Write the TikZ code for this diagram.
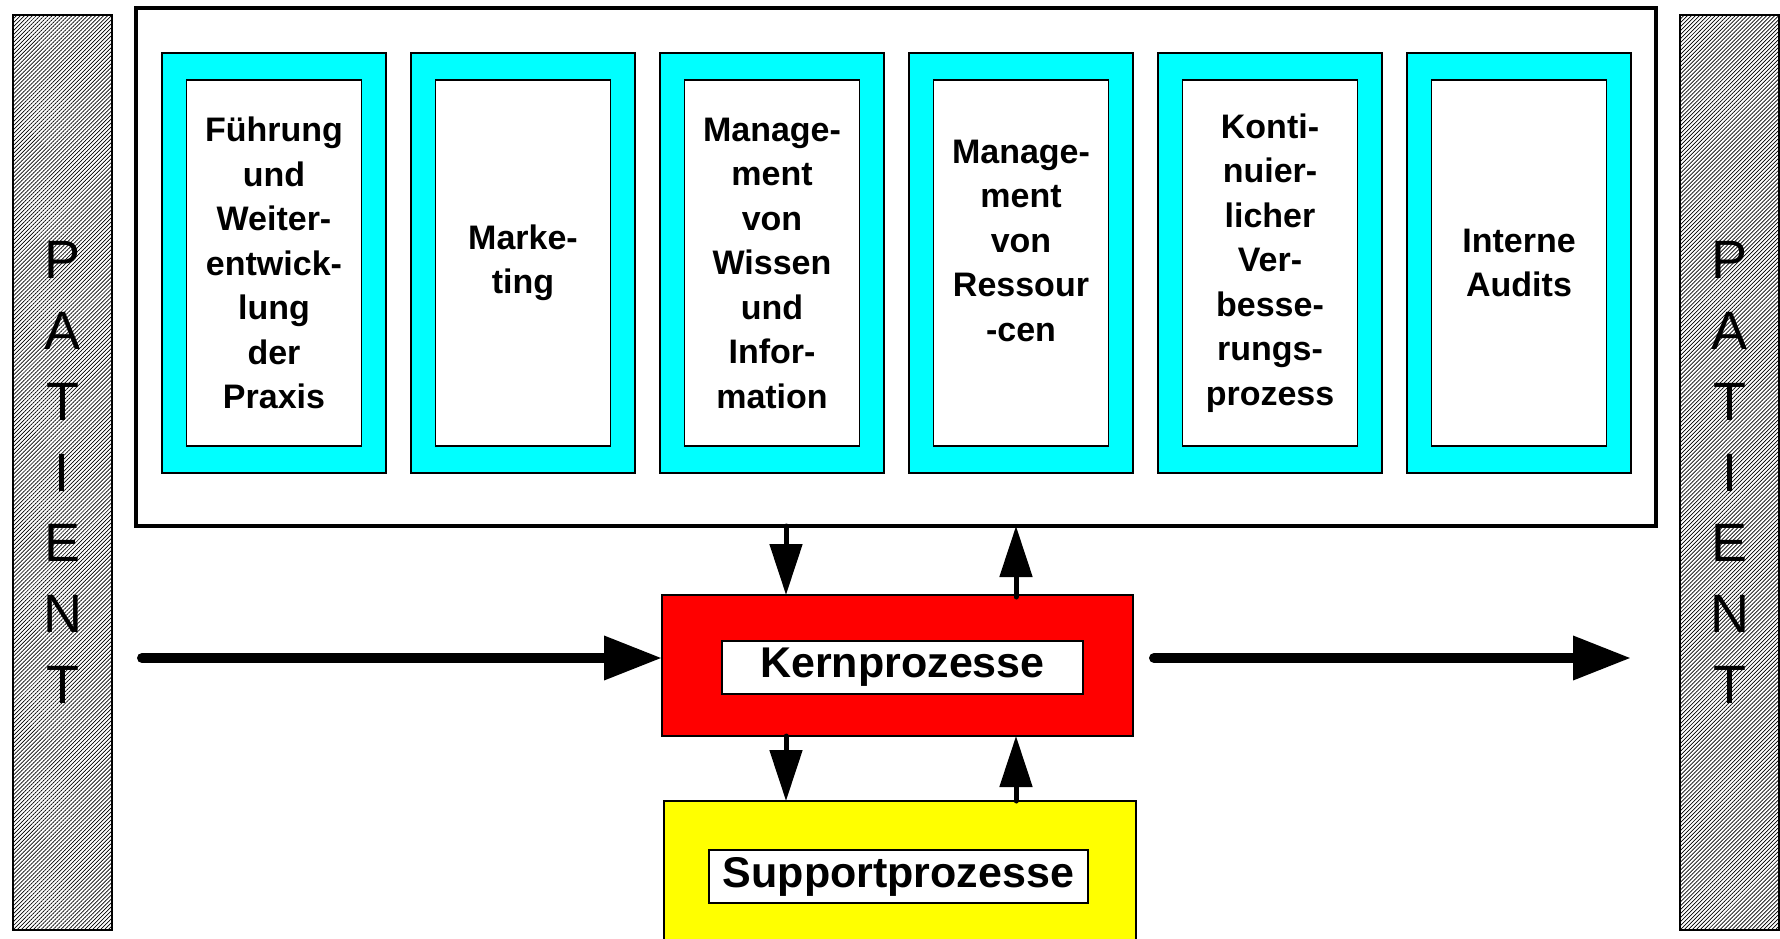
\documentclass[tikz,border=0pt]{standalone}
\usepackage{fontspec}
\setmainfont{Liberation Sans}
\usetikzlibrary{arrows.meta,patterns.meta,positioning}
\definecolor{aqua}{RGB}{0,255,255}
\definecolor{kernred}{RGB}{255,0,0}
\definecolor{supyellow}{RGB}{255,255,0}
\tikzset{
  patient/.style={draw, line width=2pt, inner sep=0pt, outer sep=0pt, minimum width=99pt, minimum height=915pt,
    pattern={Lines[angle=45,distance=2.8pt,line width=0.7pt]}},
  letters/.style={align=center, inner sep=0pt, font=\fontsize{54}{70.8}\selectfont},
  frame/.style={draw, line width=3.5pt, inner sep=0pt, outer sep=0pt, minimum width=1520pt, minimum height=518pt},
  topic/.style={draw, line width=1.7pt, fill=aqua, inner sep=0pt, outer sep=0pt, minimum width=224pt, minimum height=420pt},
  topictext/.style={draw, line width=1.7pt, fill=white, inner sep=0pt, minimum width=175pt, minimum height=366pt,
    align=center, font=\fontsize{34}{44.5}\selectfont\bfseries},
  procbox/.style={draw, line width=2pt, inner sep=0pt, outer sep=0pt, minimum width=#1},
  proctext/.style={draw, line width=2pt, fill=white, inner sep=0pt, minimum width=#1, minimum height=53pt,
    font=\fontsize{43}{50}\selectfont\bfseries},
  flow/.style={line width=10pt, line cap=round, -{Triangle[length=58pt,width=42pt]}},
  link/.style={line width=5pt, line cap=round, -{Triangle[length=51pt,width=32pt]}}
}
\begin{document}
\begin{tikzpicture}[x=1pt, y=-1pt]
\useasboundingbox (0,0) rectangle (1780,939);
\clip (0,0) rectangle (1780,939);
\node[patient] (patL) at (62.5,472.5) {};
\node[patient] (patR) at (1729.5,472.5) {};
\node[letters] (patLtxt) at (patL) {P\\A\\T\\I\\E\\N\\T};
\node[letters] (patRtxt) at (patR) {P\\A\\T\\I\\E\\N\\T};
\node[frame] (frame) at (896,267) {};
\foreach \txt [count=\i] in {{Führung\\und\\Weiter-\\entwick-\\lung\\der\\Praxis},
  {Marke-\\ting},
  {Manage-\\ment\\von\\Wissen\\und\\Infor-\\mation},
  {Manage-\\ment\\von\\Ressour\\-cen\\~},
  {Konti-\\nuier-\\licher\\Ver-\\besse-\\rungs-\\prozess},
  {Interne\\Audits}}{
  \node[topic] (box\i) at ({274+249*(\i-1)},263) {};
  \node[topictext] (txt\i) at (box\i) {\txt};
}
\node[procbox=471pt, minimum height=141pt, fill=kernred] (kern) at (897.5,665.5) {};
\node[proctext=361pt] (kerntxt) at (902.5,667) {Kernprozesse};
\node[procbox=472pt, minimum height=149pt, fill=supyellow] (sup) at (900,875.5) {};
\node[proctext=379pt] (suptxt) at (898.5,876.5) {Supportprozesse};
\coordinate (inL) at (142,658);
\coordinate (dn) at (786,0);
\coordinate (up) at (1016,0);
\draw[flow] (inL) -- (inL -| kern.west);
\draw[flow] ([xshift=21pt]kern.east |- inL) -- (box6.east |- inL);
\draw[link] (frame.south -| dn) -- (kern.north -| dn);
\draw[link] ([yshift=-2pt]kern.north -| up) -- (frame.south -| up);
\draw[link] (kern.south -| dn) -- (sup.north -| dn);
\draw[link] (sup.north -| up) -- (kern.south -| up);
\end{tikzpicture}
\end{document}
